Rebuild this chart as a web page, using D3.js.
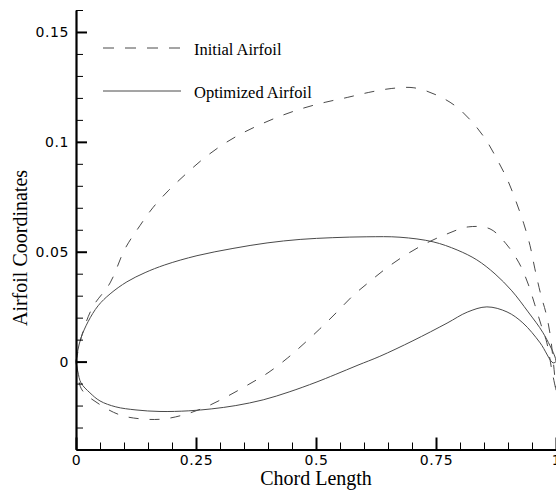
<!DOCTYPE html>
<html>
<head>
<meta charset="utf-8">
<script src="https://cdn.jsdelivr.net/npm/d3@7"></script>
<style>
  html, body { margin: 0; padding: 0; background: #fff; }
  svg { display: block; }
</style>
</head>
<body>
<svg id="chart" width="556" height="491"></svg>
<script>
// ---------- data ----------
const seriesNames = ["Initial Airfoil", "Optimized Airfoil"];

const initialUpper = [
  [0,0],[0.0125,0.0122],[0.035,0.0249],[0.071,0.0358],[0.102,0.0513],[0.133,0.0618],
  [0.160,0.0700],[0.192,0.0777],[0.227,0.0850],[0.263,0.0919],[0.302,0.0982],[0.340,0.1032],
  [0.383,0.1078],[0.429,0.1120],[0.473,0.1153],[0.519,0.1180],[0.565,0.1202],[0.610,0.1225],
  [0.658,0.1243],[0.704,0.1246],[0.750,0.1214],[0.790,0.1164],[0.825,0.1091],[0.854,0.1009],
  [0.879,0.0913],[0.900,0.0822],[0.917,0.0727],[0.933,0.0627],[0.946,0.0527],[0.956,0.0422],
  [0.969,0.0299],[0.979,0.0222],[0.988,0.0121],[0.994,0.0008],[1.0,-0.013]
];

const initialLower = [
  [0,0],[0.004,-0.006],[0.0125,-0.0129],[0.048,-0.0193],[0.092,-0.0243],[0.1375,-0.0261],
  [0.183,-0.0261],[0.231,-0.0238],[0.275,-0.0202],[0.317,-0.0156],[0.358,-0.0106],[0.400,-0.0051],
  [0.440,0.0015],[0.473,0.0078],[0.508,0.0149],[0.542,0.0222],[0.577,0.0300],[0.610,0.0361],
  [0.646,0.0424],[0.683,0.0480],[0.729,0.0538],[0.773,0.0581],[0.817,0.0613],[0.8625,0.0604],
  [0.896,0.0536],[0.923,0.0449],[0.942,0.0353],[0.956,0.0258],[0.969,0.0167],[0.981,0.0085],
  [0.992,-0.0047],[1.0,-0.013]
];

const optimizedUpper = [
  [0,0],[0.004,0.0053],[0.0104,0.0108],[0.025,0.0181],[0.046,0.0254],[0.071,0.0308],
  [0.106,0.0363],[0.144,0.0405],[0.185,0.0440],[0.252,0.0482],[0.327,0.0515],[0.398,0.0540],
  [0.467,0.0556],[0.535,0.0564],[0.606,0.0568],[0.675,0.0566],[0.744,0.0545],[0.794,0.0508],
  [0.835,0.0463],[0.873,0.0399],[0.908,0.0322],[0.942,0.0226],[0.973,0.0131],[0.998,0.0021],
  [1.0,0.0]
];

const optimizedLower = [
  [0,0],[0.004,-0.0047],[0.0104,-0.0097],[0.029,-0.0142],[0.05,-0.0179],[0.083,-0.0206],
  [0.125,-0.0220],[0.175,-0.0227],[0.235,-0.0224],[0.283,-0.0215],[0.333,-0.0200],[0.390,-0.0174],
  [0.444,-0.0138],[0.5,-0.0094],[0.54,-0.0059],[0.5875,-0.0016],[0.633,0.0024],[0.702,0.0095],
  [0.773,0.0175],[0.815,0.0225],[0.856,0.0249],[0.898,0.0226],[0.931,0.0176],[0.967,0.0085],
  [0.994,-0.0006],[1.0,0.0]
];

const xMajorTicks = [0, 0.25, 0.5, 0.75, 1];
const xTickLabels = ["0", "0.25", "0.5", "0.75", "1"];
const yMajorTicks = [0, 0.05, 0.1, 0.15];
const yTickLabels = ["0", "0.05", "0.1", "0.15"];
const xTitle = "Chord Length";
const yTitle = "Airfoil Coordinates";

// ---------- layout ----------
const svg = d3.select("#chart");
const plotLeft = 76, plotRight = 556, plotTop = 10, plotBottom = 449.5;

const x = d3.scaleLinear().domain([0, 1]).range([plotLeft, plotRight]);
const y = d3.scaleLinear().domain([-0.04, 0.16]).range([plotBottom, plotTop]);

const xMinor = d3.range(0, 1.0001, 0.05).filter(v => !xMajorTicks.some(t => Math.abs(t - v) < 1e-9));
const yMinor = d3.range(-0.04, 0.1601, 0.01).filter(v => !yMajorTicks.some(t => Math.abs(t - v) < 1e-9));

const lineColor = "#4a4a4a";

// curves
const line = d3.line().x(d => x(d[0])).y(d => y(d[1])).curve(d3.curveCatmullRom.alpha(0.5));

const curves = [
  { data: initialUpper, dash: "10,11" },
  { data: initialLower, dash: "10,11" },
  { data: optimizedUpper, dash: null },
  { data: optimizedLower, dash: null }
];

svg.append("g").selectAll("path").data(curves).join("path")
  .attr("d", d => line(d.data))
  .attr("fill", "none")
  .attr("stroke", lineColor)
  .attr("stroke-width", 1)
  .attr("stroke-dasharray", d => d.dash);

// minor ticks
const yMinorAxis = d3.axisLeft(y).tickValues(yMinor).tickFormat("").tickSizeInner(-7).tickSizeOuter(0);
const gYm = svg.append("g").attr("transform", `translate(${plotLeft},0)`).call(yMinorAxis);
gYm.select(".domain").remove();
gYm.selectAll("line").attr("stroke", "#000").attr("stroke-width", 1);

const xMinorAxis = d3.axisBottom(x).tickValues(xMinor).tickFormat("").tickSizeInner(-7).tickSizeOuter(0);
const gXm = svg.append("g").attr("transform", `translate(0,${plotBottom})`).call(xMinorAxis);
gXm.select(".domain").remove();
gXm.selectAll("line").attr("stroke", "#000").attr("stroke-width", 1);

// major axes
const yAxis = d3.axisLeft(y).tickValues(yMajorTicks)
  .tickFormat((d, i) => yTickLabels[i]).tickSizeInner(-11).tickSizeOuter(0).tickPadding(7);
const gY = svg.append("g").attr("transform", `translate(${plotLeft},0)`).call(yAxis);
gY.select(".domain").attr("stroke", "#000").attr("stroke-width", 2.2);
gY.selectAll(".tick line").attr("stroke", "#000").attr("stroke-width", 2);

const xAxis = d3.axisBottom(x).tickValues(xMajorTicks)
  .tickFormat((d, i) => xTickLabels[i]).tickSizeInner(-12).tickSizeOuter(0).tickPadding(6);
const gX = svg.append("g").attr("transform", `translate(0,${plotBottom})`).call(xAxis);
gX.select(".domain").attr("stroke", "#000").attr("stroke-width", 2.2);
gX.selectAll(".tick line").attr("stroke", "#000").attr("stroke-width", 2);

[gX, gY].forEach(g => g.selectAll("text")
  .attr("fill", "#000")
  .style("font-family", "'DejaVu Sans', sans-serif")
  .style("font-size", "14px")
  .style("letter-spacing", "0.6px"));

// axis titles
svg.append("text")
  .attr("x", 316).attr("y", 485)
  .attr("text-anchor", "middle")
  .style("font-family", "'Liberation Serif', 'Times New Roman', serif")
  .style("font-size", "20px")
  .text(xTitle);

svg.append("text")
  .attr("transform", "translate(27,248) rotate(-90)")
  .attr("text-anchor", "middle")
  .style("font-family", "'Liberation Serif', 'Times New Roman', serif")
  .style("font-size", "20px")
  .text(yTitle);

// legend
const legend = [
  { name: seriesNames[0], dash: "11,11", ly: 48 },
  { name: seriesNames[1], dash: null, ly: 91 }
];
const lg = svg.append("g");
lg.selectAll("line").data(legend).join("line")
  .attr("x1", 103).attr("x2", 181)
  .attr("y1", d => d.ly).attr("y2", d => d.ly)
  .attr("stroke", lineColor).attr("stroke-width", 1)
  .attr("stroke-dasharray", d => d.dash);
lg.selectAll("text").data(legend).join("text")
  .attr("x", 194).attr("y", d => d.ly + 7)
  .style("font-family", "'Liberation Serif', 'Times New Roman', serif")
  .style("font-size", "16.5px")
  .text(d => d.name);
</script>
</body>
</html>
